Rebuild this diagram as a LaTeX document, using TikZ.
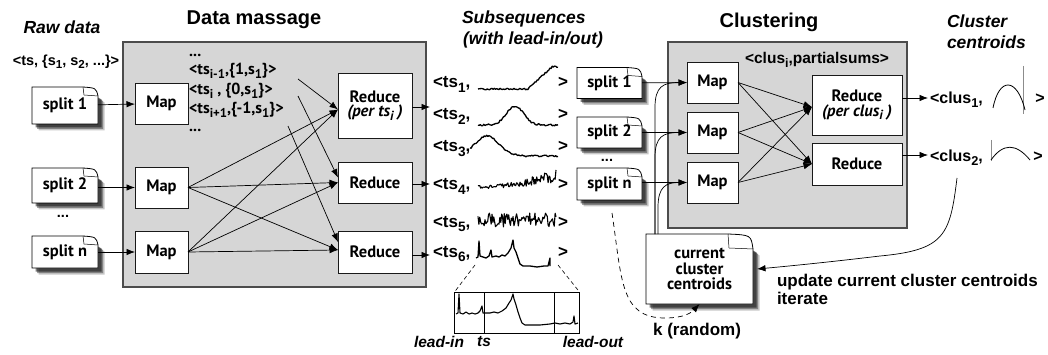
\documentclass[tikz,border=0pt]{standalone}
\usepackage{fontspec}
\usepackage{graphicx}
\setmainfont{Liberation Sans}
\newfontfamily\pts{PT Sans}
\usetikzlibrary{arrows.meta,calc}
\pgfdeclarelayer{back}
\pgfdeclarelayer{background}
\pgfsetlayers{back,background,main}
\newcommand{\sub}[1]{\raisebox{-0.45ex}{\scalebox{0.8}{#1}}}
\newcommand{\fsz}[1]{\fontsize{#1}{#1}\selectfont}
\newcommand{\docpath}[4]{($(#1.north west)+(#2,#2)$) -- ($(#1.north east)+(#2-#3,#2)$) -- ($(#1.north east)+(#2,#2+#4)$) -- ($(#1.south east)+(#2,#2)$) -- ($(#1.south west)+(#2,#2)$) -- cycle}
\newcommand{\docshape}[3]{%
  \begin{pgfonlayer}{background}
  \fill[black, opacity=0.22] \docpath{#1}{6.5}{#2}{#3};
  \fill[black, opacity=0.35] \docpath{#1}{5}{#2}{#3};
  \fill[black, opacity=0.5] \docpath{#1}{3.5}{#2}{#3};
  \filldraw[fill=white, draw=black, line width=0.8pt] (#1.north west) -- ($(#1.north east)+(-#2,0)$) .. controls ($(#1.north east)+(-2,1)$) .. ($(#1.north east)+(0,#3)$) -- (#1.south east) -- (#1.south west) -- cycle;
  \draw[line width=0.5pt] ($(#1.north east)+(-#2,0)$) -- ($(#1.north east)+(-#2+1,#3-1)$) -- ($(#1.north east)+(0,#3)$);
  \end{pgfonlayer}}
\tikzset{
  every node/.style={inner sep=0pt, outer sep=0pt},
  grayarea/.style={fill=black!16, draw=black!70, line width=1.2pt},
  box/.style={draw=black!90, fill=white, line width=0.8pt, font=\pts\bfseries\fsz{16.5}, align=center},
  docnode/.style={font=\pts\bfseries\fsz{16.5}, align=center},
  dtxt/.style={font=\pts\bfseries\fsz{16}},
  ttl/.style={font=\bfseries\fsz{20}},
  itl/.style={font=\bfseries\itshape\fsz{17.5}},
  lbl/.style={font=\bfseries\fsz{14.5}},
  tsl/.style={font=\bfseries\fsz{17}},
  cll/.style={font=\bfseries\fsz{16}},
  arr/.style={-{Latex[length=8.5pt,width=6.5pt]}, line width=0.7pt},
  ser/.style={line width=1.3pt, line join=round},
}
\begin{document}
\begin{tikzpicture}[x=1pt,y=-1pt]
\useasboundingbox (0,0) rectangle (1048,355);
\pgfmathsetseed{11}
% ---------- titles
\node[itl] at (62,27) {Raw data};
\node[ttl] at (254,20) {Data massage};
\node[itl, anchor=west] at (462,19) {Subsequences};
\node[itl, anchor=west] at (463,40) {(with lead-in/out)};
\node[ttl] at (769,22) {Clustering};
\node[itl, anchor=west] at (947,21) {Cluster};
\node[itl, anchor=west] at (947,42) {centroids};
\node[lbl] at (66,62) {<ts, \{s\sub{1}, s\sub{2}, ...\}>};
% ---------- grey areas
\begin{pgfonlayer}{back}
\node[grayarea, anchor=north west, minimum width=303, minimum height=245] (dm) at (123,42) {};
\node[grayarea, anchor=north west, minimum width=239, minimum height=186] (cl) at (668,42) {};
\end{pgfonlayer}
% ---------- data massage
\node[docnode, minimum width=66, minimum height=37] (ds1) at (65,105.5) {split 1};
\node[docnode, minimum width=66, minimum height=35] (ds2) at (65,185.5) {split 2};
\node[lbl] at (63,216) {...};
\node[docnode, minimum width=66, minimum height=32] (dsn) at (65,252) {split n};
\docshape{ds1}{15}{9}
\docshape{ds2}{15}{9}
\docshape{dsn}{15}{9}
\node[box, minimum width=53, minimum height=41] (dm1) at (161.5,103.5) {Map};
\node[box, minimum width=53, minimum height=41] (dm2) at (161.5,187.5) {Map};
\node[box, minimum width=53, minimum height=42] (dm3) at (161.5,252) {Map};
\node[box, minimum width=74, minimum height=65] (dr1) at (375,105.5) {Reduce\\[-2pt]{\itshape (per ts\sub{i} )}};
\node[box, minimum width=74, minimum height=41] (dr2) at (375,182.5) {Reduce};
\node[box, minimum width=74, minimum height=42] (dr3) at (375,252) {Reduce};
\node[dtxt, anchor=base west] (dd1) at (189,57) {...};
\node[dtxt, anchor=base west] (dl1) at (189,75) {<ts\sub{i-1},\{1,s\sub{1}\}>};
\node[dtxt, anchor=base west] (dl2) at (189,95) {<ts\sub{i} , \{0,s\sub{1}\}>};
\node[dtxt, anchor=base west] (dl3) at (189,114) {<ts\sub{i+1},\{-1,s\sub{1}\}>};
\node[dtxt, anchor=base west] (dd2) at (189,132) {...};
\draw[arr] (ds1) -- (dm1);
\draw[arr] (ds2.east |- dm2.west) -- (dm2);
\draw[arr] (dsn) -- (dm3);
\coordinate (a1) at (298,79);
\coordinate (a2) at (298,96);
\coordinate (a3) at (288,126);
\draw[arr] (a1) -- ([yshift=-4pt]dr1.west);
\draw[arr] (a2) -- ([yshift=5pt]dr2.west);
\draw[arr] (a3) -- ([yshift=10pt]dr3.west);
\foreach \m in {dm2,dm3}{
  \draw[arr] (\m.east) -- ([yshift=-4pt]dr1.west);
  \draw[arr] (\m.east) -- (dr2.west);
  \draw[arr] (\m.east) -- ([yshift=2pt]dr3.west);
}
\coordinate (o1) at (430,107);
\coordinate (o2) at (430,184);
\coordinate (o3) at (430,255);
\draw[arr] ([yshift=-1.5pt]dr1.east) -- (o1);
\draw[arr] ([yshift=-1.5pt]dr2.east) -- (o2);
\draw[arr] ([yshift=-3pt]dr3.east) -- (o3);
% ---------- subsequences
\foreach \k/\y in {1/88,2/120,3/152,4/190,5/227,6/257}{
  \node[tsl, anchor=base west] (t\k) at (433,\y) {<ts\sub{\k},};
  \node[tsl, anchor=base] (g\k) at (563,\y) {>};
}
\draw[ser] plot[domain=0:80, samples=70] ({478+\x},{89-22*min(1,max(0,(\x-50)/24))+0.9*rand});
\draw[ser] plot[domain=0:80, samples=70] ({478+\x},{125-19*exp(-((\x-37)/12)*((\x-37)/12))+0.9*rand});
\draw[ser] plot[domain=0:88, samples=75] ({470+\x},{156-20*exp(-((\x-17)/17)*((\x-17)/17))+0.9*rand});
\draw[ser, line width=1.1pt] plot[domain=0:78, samples=90] ({478+\x},{187-12*(\x/78)*(\x/78)+(1.5+6*(\x/78)*(\x/78))*rand});
\draw[ser, line width=1.1pt] plot[domain=0:78, samples=90] ({478+\x},{220+7*rand});
\draw[ser] plot coordinates {(476,258) (478,257) (479,241) (480,256) (483,257) (486,258) (489,256) (491,250) (492,257) (496,256) (499,257) (502,255) (505,256) (508,253) (511,248) (513,240) (514,248) (516,252) (518,258) (520,264) (523,266) (530,266) (537,267) (544,266) (548,266) (550,258) (550,266)};
% inset
\node[draw, line width=0.8pt, minimum width=125, minimum height=41] (ins) at (517,312.5) {};
\draw[line width=0.6pt] (ins.north -| 484,0) -- (ins.south -| 484,0);
\draw[line width=0.6pt] (ins.north -| 554,0) -- (ins.south -| 554,0);
\coordinate (z1) at (475,265);
\coordinate (z2) at (558,265);
\draw[line width=0.6pt, dash pattern=on 4pt off 3pt] (z1) -- (ins.north west);
\draw[line width=0.6pt, dash pattern=on 4pt off 3pt] (z2) -- (ins.north east);
\draw[ser, line width=1.1pt] plot coordinates {(456,314) (458,313) (459,294) (460,313) (463,314) (466,312) (469,314) (472,313) (475,314) (478,313) (480,311) (482,306) (483,313) (486,313) (490,313) (494,312) (498,313) (502,311) (506,308) (509,303) (511,300) (513,294) (514,299) (516,305) (518,312) (520,318) (522,323) (525,325) (530,325) (540,325) (550,324) (555,323) (560,324) (565,323) (570,324) (573,322) (574,316) (575,324) (578,323)};
\node[font=\bfseries\itshape\fsz{15.5}] at (439,342) {lead-in};
\node[font=\bfseries\itshape\fsz{15.5}] at (484,342) {ts};
\node[font=\bfseries\itshape\fsz{15.5}] at (593,342) {lead-out};
% ---------- clustering
\node[font=\bfseries\fsz{15.5}] at (817,60) {<clus\sub{i},partialsums>};
\node[docnode, minimum width=65, minimum height=31] (cs1) at (609.5,83) {split 1};
\node[docnode, minimum width=65, minimum height=31] (cs2) at (609.5,132.5) {split 2};
\node[lbl] at (607,160) {...};
\node[docnode, minimum width=65, minimum height=32] (csn) at (609.5,184) {split n};
\docshape{cs1}{15}{9}
\docshape{cs2}{15}{9}
\docshape{csn}{15}{9}
\node[box, minimum width=51, minimum height=41] (cm1) at (712.5,82.5) {Map};
\node[box, minimum width=51, minimum height=41] (cm2) at (712.5,132.5) {Map};
\node[box, minimum width=51, minimum height=41] (cm3) at (712.5,182.5) {Map};
\node[box, minimum width=90, minimum height=60] (cr1) at (857,105) {Reduce\\[-2pt]{\itshape (per clus\sub{i} )}};
\node[box, minimum width=90, minimum height=42] (cr2) at (857,164) {Reduce};
\draw[arr] (cs1) -- (cm1);
\draw[arr] (cs2) -- (cm2);
\draw[arr] (csn.east |- cm3.west) -- (cm3);
\foreach \m in {cm1,cm2,cm3}{
  \draw[arr] (\m.east) -- ([yshift=-2pt]cr1.west);
  \draw[arr] (\m.east) -- (cr2.west);
}
\node[cll, anchor=base west] (c1l) at (930,104) {<clus\sub{1},};
\node[cll, anchor=base] (c1g) at (1040,104) {>};
\node[cll, anchor=base west] (c2l) at (930,162) {<clus\sub{2},};
\node[cll, anchor=base] (c2g) at (1038,162) {>};
\coordinate (p1) at ([yshift=7pt]cr1.east);
\coordinate (p2) at ([yshift=9pt]cr2.east);
\draw[arr, shorten >=2pt] (p1) -- (p1 -| c1l.west);
\draw[arr, shorten >=2pt] (p2) -- (p2 -| c2l.west);
\draw[black!45, line width=0.4pt] (1023,66) -- (1023,114);
\draw[line width=0.8pt] (993,108) .. controls (999,77) and (1017,77) .. (1025,110);
\draw[black!45, line width=0.4pt] (991,140) -- (991,161);
\draw[line width=0.8pt] (991,160) .. controls (1003,143) and (1016,143) .. (1030,160);
% ---------- current cluster centroids
\node[docnode, minimum width=107, minimum height=70] (ccc) at (699.5,269) {current\\[-1pt]cluster\\[-1pt]centroids};
\docshape{ccc}{25}{15}
\draw[arr] ($(ccc.north west)+(9,0)$) -- ($(cm1.west)+(-32,25)$) .. controls ($(cm1.west)+(-32,4)$) and ($(cm1.west)+(-24,0)$) .. (cm1.west);
\draw[arr] ($(ccc.north west)+(9,0)$) -- ($(cm2.west)+(-32,25)$) .. controls ($(cm2.west)+(-32,4)$) and ($(cm2.west)+(-24,0)$) .. (cm2.west);
\draw[arr] ($(ccc.north west)+(12,0)$) -- ($(cm3.west)+(-29,25)$) .. controls ($(cm3.west)+(-29,4)$) and ($(cm3.west)+(-21,0)$) .. (cm3.west);
\coordinate (u0) at (957,178);
\draw[arr] (u0) .. controls (950,235) and (945,250) .. (880,256) .. controls (830,262) and (790,266) .. ([xshift=4pt]ccc.east);
\node[font=\bfseries\fsz{17}, anchor=base west] at (777,286) {update current cluster centroids};
\node[font=\bfseries\fsz{17}, anchor=base west] at (777,304) {iterate};
\coordinate (k0) at (612,213);
\draw[arr, dash pattern=on 5pt off 4pt] (k0) .. controls (622,280) and (620,318) .. (665,318) .. controls (685,318) and (692,312) .. (ccc.south);
\node[font=\bfseries\fsz{17}] at (697,331) {k (random)};
\end{tikzpicture}
\end{document}
